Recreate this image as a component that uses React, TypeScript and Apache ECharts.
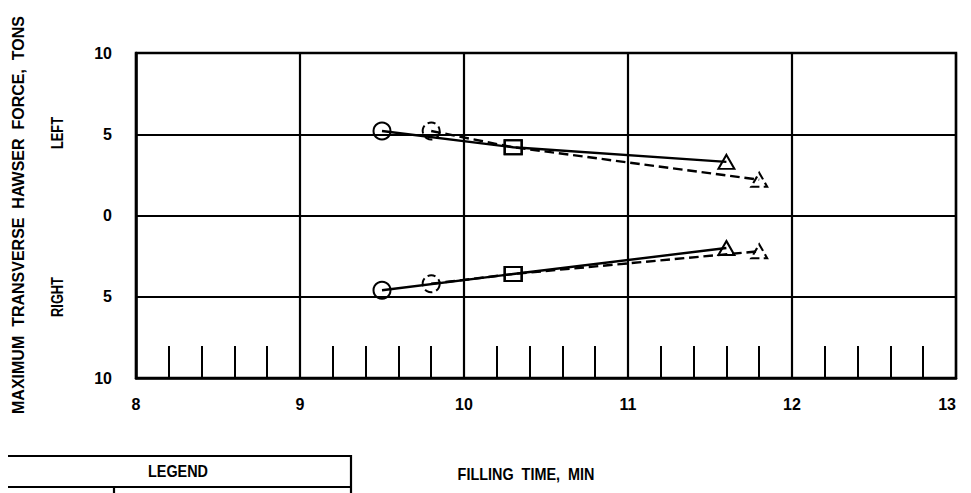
import React, { useEffect, useRef } from "react";
import * as echarts from "echarts";

const xTicks = [8, 9, 10, 11, 12, 13];
const yTicks = [-10, -5, 0, 5, 10];

const leftSolidX = [9.5, 10.3, 11.6];
const leftSolidY = [5.2, 4.2, 3.3];
const leftDashedX = [9.8, 10.3, 11.8];
const leftDashedY = [5.2, 4.2, 2.2];

const rightSolidX = [9.5, 10.3, 11.6];
const rightSolidY = [-4.6, -3.6, -2.0];
const rightDashedX = [9.8, 10.3, 11.8];
const rightDashedY = [-4.2, -3.6, -2.2];

const markerSymbols = ["circle", "rect", "triangle"];
const dashedMarkers = [true, false, true];

const yTitle = "MAXIMUM  TRANSVERSE  HAWSER  FORCE,  TONS";
const xTitle = "FILLING  TIME,  MIN";
const legendTitle = "LEGEND";

const FONT = "'Liberation Sans', Arial, sans-serif";

function buildSeries(xs: number[], ys: number[], dashed: boolean) {
  return {
    type: "line",
    data: xs.map((x, i) => ({
      value: [x, ys[i]],
      symbol: markerSymbols[i],
      symbolSize: markerSymbols[i] === "rect" ? [17, 14] : markerSymbols[i] === "triangle" ? [16, 14] : 17,
      itemStyle: {
        color: "rgba(0,0,0,0)",
        borderColor: "#000",
        borderWidth: 2,
        borderType: dashed && dashedMarkers[i] ? "dashed" : "solid",
      },
    })),
    showSymbol: true,
    lineStyle: { color: "#000", width: 2.4, type: dashed ? "dashed" : "solid" },
    itemStyle: { color: "rgba(0,0,0,0)", borderColor: "#000" },
    z: 5,
  };
}

function rotText(text: string, x: number, y: number, size: number, scale: number) {
  return {
    type: "text",
    x,
    y,
    rotation: Math.PI / 2,
    scaleX: scale,
    style: { text, fill: "#000", font: `bold ${size}px ${FONT}`, align: "center", verticalAlign: "middle" },
  };
}

export default function App() {
  const ref = useRef<HTMLDivElement>(null);
  useEffect(() => {
    if (!ref.current) return;
    const chart = echarts.init(ref.current, undefined, { renderer: "svg" });
    chart.setOption({
      animation: false,
      backgroundColor: "#fff",
      grid: {
        left: 136,
        right: 15,
        top: 53,
        bottom: 115,
        show: true,
        borderColor: "#000",
        borderWidth: 2.5,
      },
      xAxis: {
        type: "value",
        min: xTicks[0],
        max: xTicks[xTicks.length - 1],
        interval: 1,
        axisLine: { show: true, onZero: false, lineStyle: { color: "#000", width: 2.5 } },
        axisTick: { show: true, inside: true, length: 32, lineStyle: { color: "#000", width: 2 } },
        minorTick: { show: true, splitNumber: 5, length: 32, lineStyle: { color: "#000", width: 2 } },
        splitLine: { show: true, lineStyle: { color: "#000", width: 2.2 } },
        axisLabel: {
          color: "#000",
          fontWeight: "bold",
          fontSize: 16,
          fontFamily: FONT,
          margin: 18,
          alignMaxLabel: "right",
        },
      },
      yAxis: {
        type: "value",
        min: yTicks[0],
        max: yTicks[yTicks.length - 1],
        interval: 5,
        axisLine: { show: true, onZero: false, lineStyle: { color: "#000", width: 2.5 } },
        axisTick: { show: false },
        splitLine: { show: true, lineStyle: { color: "#000", width: 2.2 } },
        axisLabel: {
          color: "#000",
          fontWeight: "bold",
          fontSize: 16,
          fontFamily: FONT,
          margin: 24,
          formatter: (v: number) => String(Math.abs(v)),
        },
      },
      series: [
        buildSeries(leftSolidX, leftSolidY, false),
        buildSeries(leftDashedX, leftDashedY, true),
        buildSeries(rightSolidX, rightSolidY, false),
        buildSeries(rightDashedX, rightDashedY, true),
      ],
      graphic: [
        rotText(yTitle, 18, 215, 16, 1),
        rotText("LEFT", 57, 133, 16, 0.8),
        rotText("RIGHT", 57, 297, 16, 0.8),
        {
          type: "text",
          x: 526,
          y: 474,
          scaleX: 0.9,
          style: { text: xTitle, fill: "#000", font: `bold 16px ${FONT}`, align: "center", verticalAlign: "middle" },
        },
        {
          type: "rect",
          shape: { x: 5, y: 456, width: 346, height: 60 },
          style: { fill: "none", stroke: "#000", lineWidth: 2.2 },
        },
        {
          type: "line",
          shape: { x1: 5, y1: 487, x2: 351, y2: 487 },
          style: { stroke: "#000", lineWidth: 2.2 },
        },
        {
          type: "line",
          shape: { x1: 114, y1: 487, x2: 114, y2: 500 },
          style: { stroke: "#000", lineWidth: 2.2 },
        },
        {
          type: "text",
          x: 178,
          y: 471,
          scaleX: 0.9,
          style: { text: legendTitle, fill: "#000", font: `bold 16px ${FONT}`, align: "center", verticalAlign: "middle" },
        },
      ],
    });
    return () => chart.dispose();
  }, []);
  return <div ref={ref} style={{ width: 971, height: 493, marginLeft: -8, marginTop: -8 }} />;
}
